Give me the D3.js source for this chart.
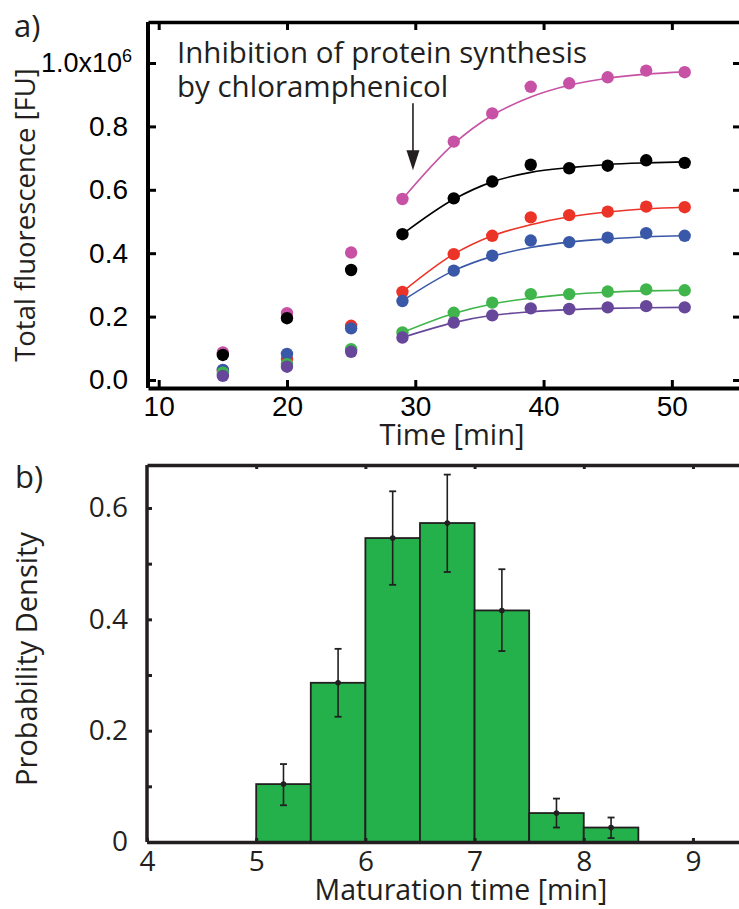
<!DOCTYPE html>
<html lang="en">
<head>
<meta charset="utf-8">
<title>Fluorescence and maturation time</title>
<script src="https://d3js.org/d3.v7.min.js"></script>
<style>
body { margin: 0; background: #fff; }
.myriad { font-family: "Open Sans", "Noto Sans", sans-serif; fill: #231f20; }
</style>
</head>
<body>
<div id="chart"></div>
<script>
var width = 739, height = 909;

// ---- panel a data ----
var times = [15, 20, 25, 29, 33, 36, 39, 42, 45, 48, 51];
var magenta = [0.087, 0.211, 0.402, 0.571, 0.752, 0.841, 0.925, 0.936, 0.955, 0.976, 0.971];
var black   = [0.079, 0.195, 0.347, 0.460, 0.573, 0.626, 0.679, 0.668, 0.676, 0.693, 0.685];
var red     = [0.030, 0.066, 0.171, 0.278, 0.397, 0.455, 0.513, 0.520, 0.531, 0.547, 0.545];
var blue    = [0.032, 0.082, 0.163, 0.249, 0.345, 0.392, 0.440, 0.435, 0.449, 0.463, 0.455];
var green   = [0.023, 0.050, 0.097, 0.150, 0.212, 0.244, 0.271, 0.271, 0.279, 0.286, 0.283];
var purple  = [0.013, 0.042, 0.089, 0.134, 0.181, 0.204, 0.226, 0.224, 0.229, 0.233, 0.229];

var fitTimes   = [29, 33, 36, 39, 42, 45, 48, 51];
var fitMagenta = [0.571, 0.745, 0.835, 0.893, 0.930, 0.952, 0.965, 0.972];
var fitBlack   = [0.460, 0.570, 0.625, 0.655, 0.670, 0.680, 0.685, 0.688];
var fitRed     = [0.278, 0.397, 0.455, 0.490, 0.515, 0.530, 0.540, 0.545];
var fitBlue    = [0.250, 0.345, 0.390, 0.418, 0.435, 0.445, 0.452, 0.455];
var fitGreen   = [0.150, 0.210, 0.240, 0.258, 0.270, 0.277, 0.281, 0.283];
var fitPurple  = [0.134, 0.181, 0.204, 0.215, 0.222, 0.226, 0.228, 0.229];

var seriesColors = ["#c752a5", "#000000", "#ec3328", "#3a58a8", "#3fb54b", "#66479a"];
var seriesVals = [magenta, black, red, blue, green, purple];
var seriesFits = [fitMagenta, fitBlack, fitRed, fitBlue, fitGreen, fitPurple];

var timeTicks = [10, 20, 30, 40, 50];
var fluoTicks = [0, 0.2, 0.4, 0.6, 0.8, 1.0];

// ---- panel b data ----
var binStart = [5, 5.5, 6, 6.5, 7, 7.5, 8];
var density  = [0.104, 0.286, 0.546, 0.573, 0.416, 0.052, 0.026];
var errHi    = [0.140, 0.347, 0.630, 0.660, 0.490, 0.078, 0.044];
var errLo    = [0.066, 0.225, 0.462, 0.485, 0.343, 0.026, 0.007];
var binWidth = 0.5;
var matTicks = [4, 5, 6, 7, 8, 9];
var densTicks = [0, 0.2, 0.4, 0.6];
var densMinor = [0.1, 0.3, 0.5];

var svg = d3.select("#chart").append("svg")
    .attr("width", width)
    .attr("height", height);

// ================= panel a =================
var xa = d3.scaleLinear().domain([9.166, 55.39]).range([148, 741]);
var ya = d3.scaleLinear().domain([0, 1]).range([380, 63]);
var aTop = 22, aBot = 388;

var ga = svg.append("g");

// fit lines
var line = d3.line()
    .x(function(d) { return xa(d[0]); })
    .y(function(d) { return ya(d[1]); })
    .curve(d3.curveMonotoneX);

seriesFits.forEach(function(f, i) {
    ga.append("path")
        .datum(fitTimes.map(function(t, j) { return [t, f[j]]; }))
        .attr("d", line)
        .attr("fill", "none")
        .attr("stroke", seriesColors[i])
        .attr("stroke-width", 1.6);
});

// points
seriesVals.forEach(function(v, i) {
    ga.selectAll(null)
        .data(times.map(function(t, j) { return [t, v[j]]; }))
        .enter().append("circle")
        .attr("cx", function(d) { return xa(d[0]); })
        .attr("cy", function(d) { return ya(d[1]); })
        .attr("r", 6.2)
        .attr("fill", seriesColors[i]);
});

// axes frame
ga.append("g")
    .attr("transform", "translate(0," + aBot + ")")
    .call(d3.axisBottom(xa).tickValues(timeTicks).tickSizeInner(-8).tickSizeOuter(0).tickPadding(8).tickFormat(d3.format("d")))
    .call(function(g) {
        g.select(".domain").attr("stroke-width", 4);
        g.selectAll(".tick line").attr("stroke-width", 3);
        g.selectAll("text").attr("font-size", 28).attr("font-family", "Liberation Sans, Arial, sans-serif").attr("fill", "#000");
    });

ga.append("g")
    .attr("transform", "translate(0," + aTop + ")")
    .call(d3.axisTop(xa).tickValues(timeTicks).tickSizeInner(-8).tickSizeOuter(0).tickFormat(""))
    .call(function(g) {
        g.select(".domain").attr("stroke-width", 3.5);
        g.selectAll(".tick line").attr("stroke-width", 3);
    });

var yAxisA = ga.append("g")
    .attr("transform", "translate(148,0)")
    .call(d3.axisLeft(ya).tickValues(fluoTicks).tickSizeInner(-8).tickSizeOuter(0).tickPadding(20)
        .tickFormat(function(d) { return d === 1 ? "" : d3.format(".1f")(d); }));
yAxisA.select(".domain").attr("d", "M0," + aTop + "V" + aBot).attr("stroke-width", 4);
yAxisA.selectAll(".tick line").attr("stroke-width", 3);
yAxisA.selectAll("text").attr("font-size", 28).attr("font-family", "Liberation Sans, Arial, sans-serif").attr("fill", "#000");
yAxisA.selectAll(".tick").filter(function(d) { return d === 1; }).select("text")
    .call(function(t) {
        t.append("tspan").text("1.0x10");
        t.append("tspan").text("6").attr("font-size", 18).attr("dy", "-0.55em");
    })
    .attr("font-size", 27)
    .attr("x", -16);

ga.append("g")
    .attr("transform", "translate(741,0)")
    .call(d3.axisRight(ya).tickValues(fluoTicks).tickSizeInner(-8).tickSizeOuter(0).tickFormat(""))
    .call(function(g) {
        g.select(".domain").attr("d", "M0," + aTop + "V" + aBot).attr("stroke-width", 4);
        g.selectAll(".tick line").attr("stroke-width", 3);
    });

// labels
ga.append("text").attr("class", "myriad")
    .attr("x", 452).attr("y", 445)
    .attr("text-anchor", "middle")
    .attr("font-size", 29)
    .text("Time [min]");

ga.append("text").attr("class", "myriad")
    .attr("transform", "translate(35,215) rotate(-90)")
    .attr("text-anchor", "middle")
    .attr("font-size", 27.5)
    .text("Total fluorescence [FU]");

ga.append("text").attr("class", "myriad")
    .attr("x", 14).attr("y", 37)
    .attr("font-size", 31)
    .text("a)");

// annotation
ga.append("text").attr("class", "myriad")
    .attr("x", 177).attr("y", 63)
    .attr("font-size", 29.5)
    .text("Inhibition of protein synthesis");
ga.append("text").attr("class", "myriad")
    .attr("x", 177).attr("y", 97)
    .attr("font-size", 29.5)
    .text("by chloramphenicol");

var arrX = xa(29.82);
ga.append("line")
    .attr("x1", arrX).attr("x2", arrX)
    .attr("y1", ya(0.873)).attr("y2", ya(0.70))
    .attr("stroke", "#231f20").attr("stroke-width", 1.6);
ga.append("path")
    .attr("d", "M" + (arrX - 6.5) + "," + ya(0.725) + "L" + (arrX + 6.5) + "," + ya(0.725) + "L" + arrX + "," + ya(0.662) + "Z")
    .attr("fill", "#231f20");

// ================= panel b =================
var xb = d3.scaleLinear().domain([4, 9.44]).range([147, 741]);
var yb = d3.scaleLinear().domain([0, 0.6]).range([842, 508]);
var bTop = 465, bBot = 842;

var gb = svg.append("g");

gb.selectAll("rect.bin")
    .data(binStart.map(function(s, i) { return { s: s, v: density[i] }; }))
    .enter().append("rect")
    .attr("class", "bin")
    .attr("x", function(d) { return xb(d.s); })
    .attr("y", function(d) { return yb(d.v); })
    .attr("width", function(d) { return xb(d.s + binWidth) - xb(d.s); })
    .attr("height", function(d) { return yb(0) - yb(d.v); })
    .attr("fill", "#24b04b")
    .attr("stroke", "#231f20")
    .attr("stroke-width", 1.8);

var eb = gb.selectAll("g.err")
    .data(binStart.map(function(s, i) { return { c: s + binWidth / 2, v: density[i], hi: errHi[i], lo: errLo[i] }; }))
    .enter().append("g").attr("class", "err");
eb.append("line")
    .attr("x1", function(d) { return xb(d.c); }).attr("x2", function(d) { return xb(d.c); })
    .attr("y1", function(d) { return yb(d.hi); }).attr("y2", function(d) { return yb(d.lo); })
    .attr("stroke", "#231f20").attr("stroke-width", 1.6);
eb.append("line")
    .attr("x1", function(d) { return xb(d.c) - 3.5; }).attr("x2", function(d) { return xb(d.c) + 3.5; })
    .attr("y1", function(d) { return yb(d.hi); }).attr("y2", function(d) { return yb(d.hi); })
    .attr("stroke", "#231f20").attr("stroke-width", 1.8);
eb.append("line")
    .attr("x1", function(d) { return xb(d.c) - 3.5; }).attr("x2", function(d) { return xb(d.c) + 3.5; })
    .attr("y1", function(d) { return yb(d.lo); }).attr("y2", function(d) { return yb(d.lo); })
    .attr("stroke", "#231f20").attr("stroke-width", 1.8);
eb.append("circle")
    .attr("cx", function(d) { return xb(d.c); })
    .attr("cy", function(d) { return yb(d.v); })
    .attr("r", 2.8)
    .attr("fill", "#231f20");

// axes b
var xAxisB = gb.append("g")
    .attr("transform", "translate(0," + bBot + ")")
    .call(d3.axisBottom(xb).tickValues(matTicks).tickSizeInner(-4).tickSizeOuter(0).tickPadding(9).tickFormat(d3.format("d")));
xAxisB.select(".domain").attr("stroke-width", 3.5).attr("stroke", "#231f20");
xAxisB.selectAll(".tick line").attr("stroke-width", 3).attr("stroke", "#231f20");
xAxisB.selectAll("text").attr("font-size", 28).attr("font-family", "Open Sans, Noto Sans, sans-serif").attr("fill", "#231f20");

gb.append("g")
    .attr("transform", "translate(0," + bTop + ")")
    .call(d3.axisTop(xb).tickValues(matTicks.slice(1)).tickSizeInner(-4).tickSizeOuter(0).tickFormat(""))
    .call(function(g) {
        g.select(".domain").attr("stroke-width", 3.5).attr("stroke", "#231f20");
        g.selectAll(".tick line").attr("stroke-width", 3).attr("stroke", "#231f20");
    });

var yAxisB = gb.append("g")
    .attr("transform", "translate(147,0)")
    .call(d3.axisLeft(yb).tickValues(densTicks.concat(densMinor)).tickSizeInner(-5).tickSizeOuter(0).tickPadding(19)
        .tickFormat(function(d) { return densTicks.indexOf(d) >= 0 ? (d === 0 ? "0" : d3.format(".1f")(d)) : ""; }));
yAxisB.select(".domain").attr("d", "M0," + bTop + "V" + bBot).attr("stroke-width", 3.5).attr("stroke", "#231f20");
yAxisB.selectAll(".tick line").attr("stroke-width", 3).attr("stroke", "#231f20");
yAxisB.selectAll("text").attr("font-size", 28).attr("font-family", "Open Sans, Noto Sans, sans-serif").attr("fill", "#231f20");

gb.append("text").attr("class", "myriad")
    .attr("x", 461).attr("y", 900)
    .attr("text-anchor", "middle")
    .attr("font-size", 28.5)
    .text("Maturation time [min]");

gb.append("text").attr("class", "myriad")
    .attr("transform", "translate(37,659) rotate(-90)")
    .attr("text-anchor", "middle")
    .attr("font-size", 29)
    .text("Probability Density");

gb.append("text").attr("class", "myriad")
    .attr("x", 15).attr("y", 488)
    .attr("font-size", 31)
    .text("b)");
</script>
</body>
</html>
